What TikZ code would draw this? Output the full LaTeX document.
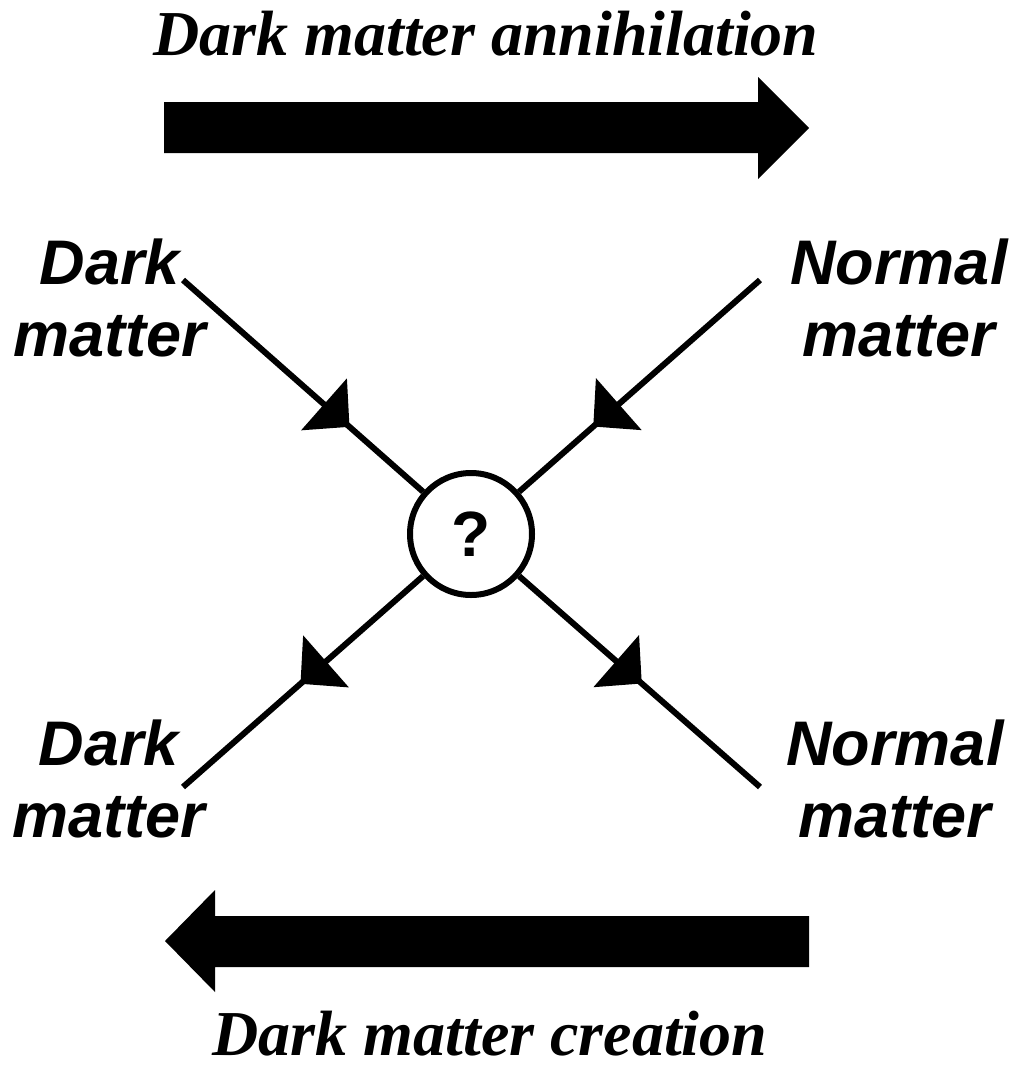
\documentclass[tikz,border=0pt]{standalone}
\usepackage{fontspec}
\setmainfont{Liberation Serif}
\setsansfont{Liberation Sans}
\usetikzlibrary{arrows.meta,decorations.markings}

\tikzset{
  title/.style={font=\fontsize{64}{70}\selectfont\rmfamily\bfseries\itshape, inner sep=0pt, anchor=base},
  particle/.style={font=\fontsize{63}{72}\selectfont\sffamily\bfseries\itshape, align=center, inner sep=0pt},
  vertex/.style={circle, draw, line width=6pt, minimum size=122pt, inner sep=0pt,
                 font=\fontsize{64}{72}\selectfont\sffamily\bfseries},
  leg/.style={line width=6pt},
  flowtip/.tip={Triangle[width=68pt,length=34pt]},
  inmark/.style={postaction={decorate}, decoration={markings,
                 mark=at position #1 with {\arrow{flowtip}}}},
  bigarrow/.style={fill=black}
}

\begin{document}
\begin{tikzpicture}[x=1pt, y=-1pt]
\useasboundingbox (0,0) rectangle (1030,1068);

% process directions
\node[title] (ann) at (486,55) {Dark matter annihilation};
\node[title] (cre) at (490,1055) {Dark matter creation};
\fill[bigarrow] (164,102) -- (758,102) -- (758,77) -- (809,128) -- (758,179)
  -- (758,153) -- (164,153) -- cycle;
\fill[bigarrow] (809,916) -- (215,916) -- (215,890) -- (165,941) -- (215,992)
  -- (215,967) -- (809,967) -- cycle;

% interaction vertex
\node[vertex] (q) at (471,534) {?};

% particle labels
\node[particle] (dmin)  at (110,298) {Dark\\matter};
\node[particle] (nmin)  at (899,298) {Normal\\matter};
\node[particle] (dmout) at (109,779) {Dark\\matter};
\node[particle] (nmout) at (895,779) {Normal\\matter};

% free ends of the legs
\coordinate (tl) at (183,280);
\coordinate (tr) at (760,280);
\coordinate (bl) at (183,787);
\coordinate (br) at (760,787);

% incoming and outgoing legs
\draw[leg, inmark=222pt] (tl) -- (q);
\draw[leg, inmark=222pt] (tr) -- (q);
\draw[leg, inmark=163pt] (q) -- (bl);
\draw[leg, inmark=163pt] (q) -- (br);
\end{tikzpicture}
\end{document}
